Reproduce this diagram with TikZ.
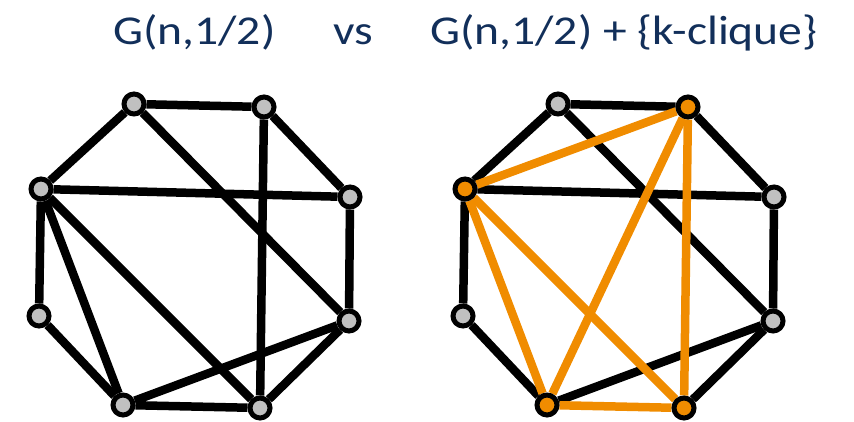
\documentclass[tikz,border=0pt]{standalone}
\usepackage{fontspec}
\setmainfont{Carlito}
\usetikzlibrary{backgrounds}
\definecolor{titleblue}{RGB}{18,47,90}
\definecolor{cliqueorange}{RGB}{240,140,0}
\definecolor{vertexgray}{RGB}{192,192,192}

\begin{document}
\begin{tikzpicture}[x=1pt,y=-1pt,
  vertex/.style={circle,draw=black,line width=5pt,fill=vertexgray,
    minimum size=20pt,inner sep=0pt},
  cvertex/.style={vertex,fill=cliqueorange},
  edge/.style={line width=8.5pt,black},
  cedge/.style={line width=8.5pt,cliqueorange},
  title/.style={anchor=base west,text=titleblue,inner sep=0pt,
    font=\fontsize{41}{45}\selectfont}]
  \useasboundingbox (0,0) rectangle (854,422);

  \node[title] (gleft) at (113,45) {\scalebox{1.16}[1]{G(n,1/2)}};
  \node[title] (vs) at (333,45) {\scalebox{1.16}[1]{vs}};
  \node[title] (gright) at (430,45) {\scalebox{1.16}[1]{G(n,1/2) + \{k-clique\}}};

  % plain random graph
  \node[vertex] (la) at (134,104) {};
  \node[vertex] (lb) at (264,107) {};
  \node[vertex] (lc) at (350,197) {};
  \node[vertex] (ld) at (349,321) {};
  \node[vertex] (le) at (260,408) {};
  \node[vertex] (lf) at (123,405) {};
  \node[vertex] (lg) at (39,316) {};
  \node[vertex] (lh) at (41,189) {};
  \begin{scope}[on background layer]
    \draw[edge] (la) -- (lb) -- (lc) -- (ld) -- (le) -- (lf) -- (lg) -- (lh) -- (la);
    \draw[edge] (lh) -- (lc);
    \draw[edge] (la) -- (ld);
    \draw[edge] (lb) -- (le);
    \draw[edge] (lh) -- (lf);
    \draw[edge] (lh) -- (le);
    \draw[edge] (lf) -- (ld);
  \end{scope}

  % same graph with a planted clique
  \begin{scope}[xshift=424pt]
    \node[vertex] (ra) at (134,104) {};
    \node[cvertex] (rb) at (264,107) {};
    \node[vertex] (rc) at (350,197) {};
    \node[vertex] (rd) at (349,321) {};
    \node[cvertex] (re) at (260,408) {};
    \node[cvertex] (rf) at (123,405) {};
    \node[vertex] (rg) at (39,316) {};
    \node[cvertex] (rh) at (41,189) {};
  \end{scope}
  \begin{scope}[on background layer]
    \draw[edge] (ra) -- (rb) -- (rc) -- (rd) -- (re);
    \draw[edge] (rf) -- (rg) -- (rh) -- (ra);
    \draw[edge] (rh) -- (rc);
    \draw[edge] (ra) -- (rd);
    \draw[edge] (rf) -- (rd);
    \draw[cedge] (rh) -- (rb);
    \draw[cedge] (rh) -- (rf);
    \draw[cedge] (rh) -- (re);
    \draw[cedge] (rb) -- (rf);
    \draw[cedge] (rb) -- (re);
    \draw[cedge] (rf) -- (re);
  \end{scope}
\end{tikzpicture}
\end{document}
